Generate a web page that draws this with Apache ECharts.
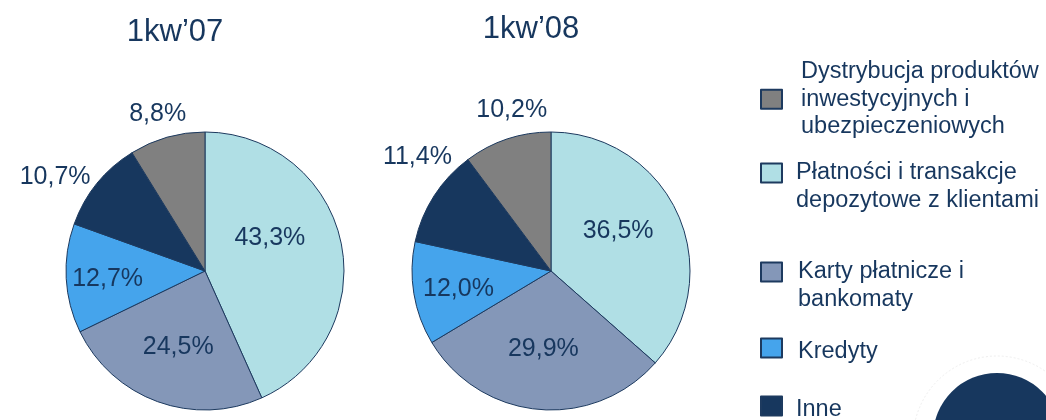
<!DOCTYPE html>
<html><head><meta charset="utf-8">
<script src="https://cdn.jsdelivr.net/npm/echarts@6/dist/echarts.min.js"></script>
<style>html,body{margin:0;padding:0;background:#fff}#c{width:1046px;height:420px}</style>
</head><body><div id="c"></div>
<script>
// ---- data ----
const categories = ['Płatności i transakcje depozytowe z klientami', 'Karty płatnicze i bankomaty', 'Kredyty', 'Inne', 'Dystrybucja produktów inwestycyjnych i ubezpieczeniowych'];
const periods = ['1kw’07', '1kw’08'];
const values07 = [43.3, 24.5, 12.7, 10.7, 8.8];
const values08 = [36.5, 29.9, 12.0, 11.4, 10.2];
const legendOrder = [4, 0, 1, 2, 3];
const legendLabels = ['Dystrybucja produktów\ninwestycyjnych i\nubezpieczeniowych', '\nPłatności i transakcje\ndepozytowe z klientami', '\nKarty płatnicze i\nbankomaty', '{s| }\n{t|Kredyty}', '{s| }\n{t|Inne}'];

// ---- styles / layout ----
const FONT = "'Liberation Sans', Arial, sans-serif";
const NAVY = '#17375e';
const sliceColors = ['#b0dfe5', '#8497b8', '#45a4ec', '#17375e', '#808080'];
const labelPlacement = ['inside', 'inside', 'inside', 'outside', 'outside'];
const labelNudge = [
  [[-6, -18], [-2, 8], [-25, 4], [-16, 11], [3, 3]],
  [[1, -10], [-1, 6], [-21, 6], [11, -24], [18, -3]]
];
const pieCenters = [[205, 271], [551, 271]];
const titleX = [175, 531];
const titleTop = [17, 14];
const legendTops = [58, 131.75, 230.75, 330.25, 388.25];
const legendTextPad = [[0, 0, 0, 14], [0, 0, 0, 9], [0, 0, 0, 11], [0, 0, 0, 11], [0, 0, 0, 9]];

const fmt = v => v.toFixed(1).replace('.', ',') + '%';

function pieSeries(values, k) {
  return {
    type: 'pie',
    center: pieCenters[k],
    radius: 139,
    startAngle: 90,
    clockwise: true,
    avoidLabelOverlap: false,
    silent: true,
    animation: false,
    itemStyle: { borderColor: '#1d3a5f', borderWidth: 1 },
    label: { show: true, fontSize: 25, color: NAVY, fontFamily: FONT, formatter: p => fmt(p.value) },
    labelLine: { show: false, length: 27, length2: 0 },
    emphasis: { scale: false },
    labelLayout: p => {
      const n = labelNudge[k][p.dataIndex];
      return { dx: n[0], dy: n[1], align: 'center' };
    },
    data: categories.map((name, i) => ({
      name: name,
      value: values[i],
      itemStyle: { color: sliceColors[i] },
      label: { position: labelPlacement[i] }
    }))
  };
}

const chart = echarts.init(document.getElementById('c'));
chart.setOption({
  animation: false,
  backgroundColor: '#ffffff',
  title: periods.map((t, i) => ({
    text: t, left: titleX[i], top: titleTop[i], textAlign: 'center', padding: 0,
    textStyle: { fontSize: 31, fontWeight: 'normal', color: NAVY, fontFamily: FONT }
  })),
  legend: legendOrder.map((idx, k) => ({
    data: [categories[idx]],
    left: 760, top: legendTops[k], orient: 'vertical', padding: 0,
    itemWidth: 21, itemHeight: 19, icon: 'rect', selectedMode: false,
    formatter: () => legendLabels[k],
    textStyle: {
      fontSize: 23.5, lineHeight: 27.5, color: NAVY, fontFamily: FONT, padding: legendTextPad[k],
      rich: {
        s: { fontSize: 6, lineHeight: 8 },
        t: { fontSize: 23.5, lineHeight: 27.5, color: NAVY, fontFamily: FONT }
      }
    }
  })),
  graphic: [
    { type: 'circle', silent: true, shape: { cx: 997, cy: 440, r: 84 }, style: { fill: 'none', stroke: '#efefef', lineWidth: 1, lineDash: [2, 2] } },
    { type: 'circle', silent: true, shape: { cx: 997, cy: 437, r: 64 }, style: { fill: '#17375e' } }
  ],
  series: [pieSeries(values07, 0), pieSeries(values08, 1)]
});
</script>
</body></html>
